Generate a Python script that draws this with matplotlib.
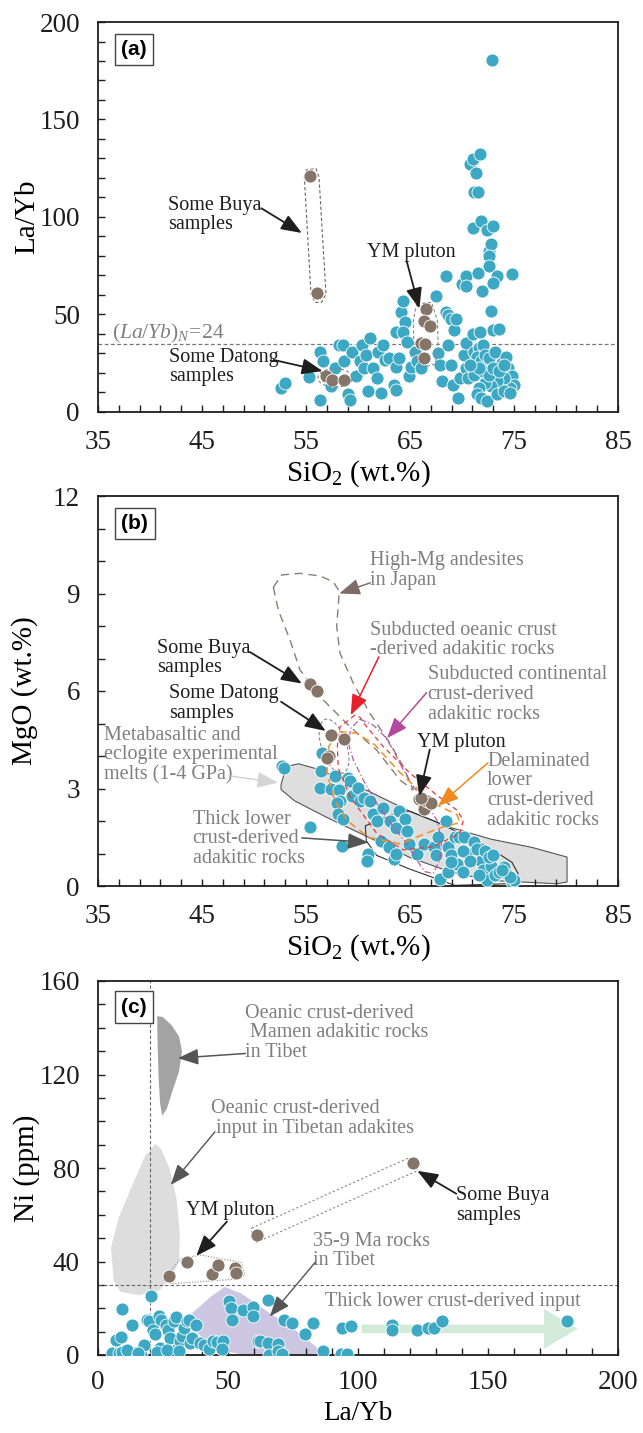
import numpy as np
import matplotlib
matplotlib.use("Agg")
import matplotlib.pyplot as plt
from matplotlib.patches import Polygon, Ellipse, FancyArrow

plt.rcParams['font.family'] = ['Liberation Serif', 'DejaVu Serif']
plt.rcParams['mathtext.fontset'] = 'custom'
plt.rcParams['mathtext.rm'] = 'Liberation Serif'
plt.rcParams['mathtext.it'] = 'Liberation Serif:italic'

BLUE = '#3ca8c3'
BROWN = '#857569'
GRAY_TXT = '#7f7f7f'
DARK = '#1e1e1e'

## ---------------- data, panel (a): La/Yb vs SiO2 ----------------
a_blue_sio2 = [52.6, 53.0, 55.3, 56.3, 56.6, 56.3, 57.4, 57.8, 58.2, 58.6, 58.7, 59.0, 59.2, 59.4,
               59.8, 60.2, 60.4, 60.6, 60.8, 61.0, 61.2, 61.4, 61.8, 61.9, 62.2, 62.4, 62.6, 63.0,
               63.5, 63.7, 63.7, 63.9, 64.1, 64.3, 64.5, 63.7, 64.3, 64.7, 64.9, 65.1, 65.5, 65.7,
               66.1, 67.5, 67.7, 67.9, 68.1, 68.5, 68.5, 68.7, 68.9, 68.7, 68.9, 69.1, 69.2, 69.4,
               69.6, 69.8, 70.0, 70.4, 70.4, 70.2, 70.4, 70.6, 70.4, 70.8, 71.1, 71.7, 71.3, 71.2,
               71.5, 71.1, 71.8, 72.4, 73.0, 72.6, 72.8, 72.6, 71.5, 72.6, 73.4, 73.0, 71.9, 72.8,
               71.1, 71.7, 73.0, 73.6, 74.8, 72.9,
               71.2, 71.6, 72.0, 71.4, 71.8, 72.2, 72.6, 73.2, 73.8, 74.2, 74.4, 74.8, 75.0, 74.6,
               74.0, 73.4, 72.8, 72.2, 71.6, 71.4, 71.8, 72.4, 73.4, 74.0, 74.6, 71.2, 72.0, 72.6,
               73.0, 73.6, 74.0, 71.6, 70.8]
a_blue_layb = [12.3, 14.9, 17.9, 30.9, 25.9, 6.1, 13.2, 22.5, 34.3, 34.3, 25.9, 9.0, 6.4, 30.9,
               18.3, 25.9, 34.3, 22.5, 29.2, 10.7, 37.7, 22.5, 17.4, 30.9, 9.8, 34.3, 26.7, 27.6,
               14.0, 11.5, 23.3, 27.6, 51.2, 57.1, 46.2, 41.1, 41.1, 36.0, 18.3, 23.3, 30.9, 25.9,
               22.5, 59.7, 30.0, 24.2, 15.7, 69.8, 51.2, 49.5, 47.8, 34.3, 24.2, 14.0, 41.9, 47.8,
               7.3, 17.4, 65.6, 69.8, 64.8, 29.2, 22.5, 17.4, 35.2, 127.3, 129.8, 132.4, 122.7, 112.9,
               112.9, 94.3, 97.7, 93.5, 95.5, 82.5, 85.9, 80.0, 71.5, 74.9, 69.8, 66.4, 62.2, 51.6,
               40.2, 41.1, 41.9, 42.8, 70.7, 180.5,
               30.9, 32.6, 34.3, 28.4, 25.9, 29.2, 27.6, 30.9, 25.0, 28.4, 22.5, 18.3, 14.0, 12.3,
               17.4, 15.7, 13.2, 14.9, 12.3, 9.0, 7.3, 5.6, 9.0, 10.7, 9.8, 19.1, 20.8, 19.1,
               22.5, 20.8, 24.2, 22.5, 24.2]
a_brown_sio2 = [55.4, 56.1, 56.9, 57.5, 58.7, 66.5, 66.3, 66.9, 66.1, 66.4, 66.3]
a_brown_layb = [121.0, 61.0, 18.5, 16.5, 16.5, 52.9, 46.5, 44.1, 35.2, 34.8, 27.6]

## ---------------- data, panel (b): MgO vs SiO2 ----------------
b_blue_sio2 = [52.7, 52.9, 55.4, 56.4, 56.5, 56.3, 57.4, 57.8, 58.2, 58.3, 58.0, 58.1, 58.6, 58.5,
               59.0, 59.2, 59.4, 60.0, 60.2, 60.6, 61.0, 60.9, 61.2, 61.4, 61.8, 62.4, 62.2, 63.0,
               63.1, 63.7, 63.9, 64.5, 63.5, 63.7, 64.7, 64.9, 65.7, 66.3, 67.3, 67.5, 67.7, 67.9,
               68.5, 68.7, 68.7, 69.3, 69.7, 70.2, 68.9, 69.5, 70.1, 70.6, 71.2, 71.4, 71.8, 72.0,
               72.4, 72.8, 73.2, 73.6, 74.0, 74.4, 74.8, 75.0, 74.6, 72.2, 72.6, 68.9, 70.1, 70.8,
               71.6, 73.0, 73.8]
b_blue_mgo = [3.68, 3.62, 1.83, 3.55, 4.09, 3.02, 3.00, 3.38, 2.94, 2.62, 2.56, 2.21, 2.06, 1.22,
              3.33, 3.23, 2.77, 3.02, 2.62, 2.72, 0.99, 0.78, 2.62, 2.21, 2.00, 2.41, 1.39, 1.19,
              2.00, 1.80, 2.31, 2.06, 0.83, 0.99, 1.70, 1.29, 0.99, 1.29, 1.19, 0.94, 1.50, 0.22,
              2.00, 0.43, 1.19, 1.50, 1.50, 1.50, 0.94, 0.68, 0.43, 0.99, 1.34, 1.14, 0.78, 0.48,
              0.17, 0.63, 0.33, 0.43, 0.58, 0.33, 0.12, 0.17, 0.27, 1.09, 0.89, 0.73, 1.09, 0.78,
              0.35, 0.95, 0.50]
b_brown_sio2 = [55.4, 56.1, 57.4, 58.7, 57.2, 57.0, 65.9, 66.3, 66.6, 67.0, 66.1]
b_brown_mgo = [6.23, 6.00, 4.65, 4.53, 4.00, 3.94, 2.67, 2.36, 2.62, 2.56, 2.72]

## fields in panel (b)
highmg_x = [51.86, 52.34, 53.46, 54.42, 56.67, 59.23, 61.8, 64.04, 65.32, 64.36, 63.08, 61.15,
            59.55, 58.27, 57.95, 58.2, 57.63, 56.35, 54.42, 52.66]
highmg_y = [9.19, 8.49, 7.57, 6.65, 5.72, 4.9, 4.18, 3.26, 2.95, 3.67, 4.39, 5.31,
            6.24, 7.16, 7.98, 9.06, 9.36, 9.54, 9.62, 9.57]
oceanic_x = [59.71, 58.27, 58.01, 58.11, 59.23, 61.8, 64.36, 67.24, 69.8, 70.13, 69.49, 67.56,
             65.0, 62.43, 60.83, 60.19]
oceanic_y = [5.26, 4.9, 4.29, 3.62, 2.75, 1.62, 1.11, 1.21, 1.62, 2.03, 2.34, 2.8,
             3.47, 4.29, 4.9, 5.19]
contin_x = [60.19, 61.47, 62.6, 63.4, 64.36, 65.32, 66.6, 67.57, 68.05, 67.88, 67.24, 66.44,
            65.64, 64.68, 63.4, 61.8, 60.51, 59.55, 59.07, 59.3]
contin_y = [5.13, 4.95, 4.59, 4.18, 3.57, 3.06, 2.54, 2.03, 1.42, 0.8, 0.39, 0.44,
            0.8, 1.31, 1.82, 2.54, 3.26, 3.88, 4.39, 4.85]
delam_x = [58.2, 59.9, 61.6, 64.0, 67.2, 69.5, 69.8, 68.0, 64.0, 61.0, 59.0, 57.8, 57.0, 57.2]
delam_y = [4.75, 4.7, 4.35, 3.5, 2.55, 2.2, 1.95, 1.8, 1.3, 1.5, 2.0, 2.6, 3.5, 4.3]
melts_x = [52.6, 53.1, 54.3, 56.3, 61.0, 64.9, 68.9, 72.8, 76.7, 80.1, 80.1, 79.1, 72.8, 68.9,
           64.9, 61.0, 57.0, 53.9, 52.6]
melts_y = [3.12, 3.68, 3.76, 3.58, 2.92, 2.31, 1.80, 1.44, 1.19, 0.89, 0.12, 0.07, 0.17, 0.43,
           0.89, 1.50, 2.11, 2.62, 2.97]
thick_x = [60.7, 63.0, 64.9, 67.3, 70.0, 72.8, 74.8, 75.4, 74.4, 69.3, 64.9, 61.8, 60.8]
thick_y = [1.85, 2.16, 2.31, 2.0, 1.6, 1.14, 0.73, 0.38, 0.07, 0.02, 0.53, 0.94, 1.39]

## ---------------- data, panel (c): Ni vs La/Yb ----------------
c_blue_layb = [20.5, 9.1, 7.1, 8.7, 5.5, 7.9, 9.4, 12.9, 14.2, 16.5, 17.6, 18.9, 19.7, 21.3,
               22.0, 23.6, 24.4, 23.9, 22.8, 26.0, 26.8, 27.6, 29.1, 29.9, 30.7, 31.5, 32.3, 33.1,
               34.3, 35.0, 35.4, 36.2, 37.5, 39.4, 40.9, 42.5, 44.1, 45.7, 48.0, 47.6, 50.4, 51.2,
               51.7, 55.9, 59.5, 59.8, 61.4, 62.2, 65.4, 65.4, 65.8, 69.3, 69.3, 70.6, 71.7, 74.8,
               79.5, 82.7, 86.6, 93.7, 97.3, 93.4, 95.7, 113.1, 113.1, 122.8, 126.8, 129.1, 132.3,
               180.3, 11.0, 15.5, 26.5, 31.0]
c_blue_ni = [25.2, 19.6, 6.4, 7.8, 0.8, 0.8, 1.1, 13.0, 0.8, 0.0, 4.2, 15.1, 14.4, 10.9,
             8.8, 16.5, 15.1, 2.8, 1.4, 13.0, 10.9, 7.4, 14.4, 16.2, 3.2, 6.0, 8.1, 11.6,
             14.4, 15.1, 5.3, 7.4, 13.0, 5.3, 4.2, 2.5, 6.0, 5.6, 6.0, 2.5, 23.1, 20.0,
             15.1, 19.3, 20.4, 16.8, 6.0, 6.0, 23.5, 5.3, 0.0, 4.6, 1.8, 0.4, 15.1, 13.7,
             8.8, 13.7, 1.8, 11.6, 12.6, 0.4, 0.4, 13.0, 10.9, 10.9, 11.6, 11.6, 14.4,
             14.4, 2.0, 1.0, 2.0, 1.5]
c_brown_layb = [121.3, 61.1, 27.2, 34.3, 43.8, 46.0, 52.8, 53.2]
c_brown_ni = [82.0, 51.5, 33.6, 40.0, 34.7, 38.5, 37.1, 35.0]

mamen_x = [22.8, 24.9, 28.3, 31.2, 32.3, 31.2, 28.7, 26.5, 24.7, 23.9, 23.3, 23.0, 22.8]
mamen_y = [145.0, 144.6, 141.1, 136.2, 129.9, 121.5, 113.1, 105.4, 102.3, 107.5, 118.7, 129.9, 139.7]
tibinput_x = [22.0, 24.4, 27.6, 30.2, 31.5, 31.2, 28.3, 23.6, 15.7, 8.7, 6.0, 5.0, 7.9, 12.6, 18.1]
tibinput_y = [90.4, 87.9, 79.5, 66.9, 51.5, 40.3, 33.3, 27.7, 25.6, 27.0, 31.9, 45.9, 58.5, 71.1, 85.1]
rocks359_x = [36.2, 44.1, 48.8, 55.1, 66.1, 75.6, 83.5, 86.6, 56.0, 44.0, 37.8]
rocks359_y = [17.9, 25.6, 29.1, 26.3, 17.9, 10.9, 3.9, 0.0, 0.0, 3.0, 10.0]


def style_axes(ax, xlim, ylim, xmaj, xmin, ymaj, ymin, letter):
    ax.set_xlim(*xlim)
    ax.set_ylim(*ylim)
    ax.set_xticks(xmaj)
    ax.set_xticks(xmin, minor=True)
    ax.set_yticks(ymaj)
    ax.set_yticks(ymin, minor=True)
    ax.tick_params(which='both', direction='in', length=5, width=1.0, colors=DARK,
                   labelsize=19.5, pad=13, top=False, right=False)
    for s in ax.spines.values():
        s.set_linewidth(1.3)
        s.set_color(DARK)
    ax.text(0.045, 0.93, letter, transform=ax.transAxes, fontsize=15, fontweight='bold',
            family='Liberation Sans', ha='left', va='center', zorder=10,
            bbox=dict(boxstyle='square,pad=0.3', fc='white', ec='#444444', lw=1.0))


def arrow(ax, tail, tip, color=DARK, lw=1.3):
    ax.annotate('', xy=tip, xytext=tail, zorder=6,
                arrowprops=dict(arrowstyle='-|>,head_length=0.9,head_width=0.35', color=color,
                                lw=lw, shrinkA=0, shrinkB=0, mutation_scale=14))


def field(ax, xs, ys, **kw):
    ax.add_patch(Polygon(np.column_stack([xs, ys]), closed=True, **kw))


fig = plt.figure(figsize=(6.43, 14.33), dpi=100)
L, W = 98 / 643, 520 / 643
ax_a = fig.add_axes([L, 1 - 412 / 1433, W, 390 / 1433])
ax_b = fig.add_axes([L, 1 - 886 / 1433, W, 390 / 1433])
ax_c = fig.add_axes([L, 1 - 1355 / 1433, W, 374 / 1433])

dot = dict(s=88, edgecolors='white', linewidths=0.6)
txt = dict(fontsize=14.5, linespacing=1.05, va='center', ha='left')

# ---------- (a) ----------
ax = ax_a
style_axes(ax, (35, 85), (0, 200), np.arange(35, 86, 10), np.arange(35, 86, 2),
           np.arange(0, 201, 50), np.arange(0, 201, 10), '(a)')
ax.axhline(35, color='#777777', lw=0.9, ls=(0, (3, 2)), zorder=1)
ax.text(36.3, 40.5, r'$\mathit{(La/Yb)_N\!=\!24}$', color=GRAY_TXT, fontsize=15.5, va='center')
ax.scatter(a_blue_sio2, a_blue_layb, color=BLUE, zorder=3, **dot)
ax.scatter(a_brown_sio2, a_brown_layb, color=BROWN, zorder=4, **dot)
field(ax, [54.84, 55.07, 55.96, 56.25, 56.92, 56.5, 55.87, 55.48],
      [120.5, 124.2, 124.8, 120.5, 60.5, 56.2, 56.2, 60.5],
      fill=False, ec='#666666', lw=0.8, ls=(0, (3, 2)), zorder=2)
field(ax, [65.64, 67.08, 67.63, 67.72, 67.4, 66.12, 65.38, 65.32],
      [55.4, 56.2, 46.8, 33.1, 24.5, 22.8, 29.7, 46.8],
      fill=False, ec='#888888', lw=0.8, ls=(0, (3, 2)), zorder=5)
ax.add_patch(Ellipse((57.8, 17.5), 3.3, 9.5, fill=False, ec='#888888', lw=0.8,
                     ls=(0, (3, 2)), zorder=5))
ax.text(41.7, 101, 'Some Buya\nsamples', color=DARK, **txt)
arrow(ax, (50.7, 104.5), (54.6, 91.8))
ax.text(65.1, 81.7, 'YM pluton', color=DARK, fontsize=14.5, ha='center', va='center')
arrow(ax, (64.7, 77.0), (65.9, 53.0))
ax.text(41.8, 23.1, 'Some Datong\nsamples', color=DARK, **txt)
arrow(ax, (51.9, 26.7), (56.6, 21.0))
ax.set_ylabel('La/Yb', fontsize=21)
ax.set_xlabel(r'SiO$_2$ (wt.%)', fontsize=21)
ax.yaxis.set_label_coords(-0.111, 0.5)
ax.xaxis.set_label_coords(0.5, -0.12)

# ---------- (b) ----------
ax = ax_b
style_axes(ax, (35, 85), (0, 12), np.arange(35, 86, 10), np.arange(35, 86, 2),
           np.arange(0, 13, 3), np.arange(0, 13, 1), '(b)')
field(ax, melts_x, melts_y, fc='#dedede', ec='#555555', lw=0.8, zorder=1)
field(ax, thick_x, thick_y, fill=False, ec='#333333', lw=0.8, zorder=2)
ax.scatter(b_blue_sio2, b_blue_mgo, color=BLUE, zorder=3, **dot)
field(ax, highmg_x, highmg_y, fill=False, ec='#8a7d77', lw=1.0, ls=(0, (6, 4)), zorder=4)
field(ax, oceanic_x, oceanic_y, fill=False, ec='#e8383d', lw=0.9, ls=(0, (4, 3)), zorder=4)
field(ax, contin_x, contin_y, fill=False, ec='#b45aa6', lw=0.9, ls=(0, (5, 2, 1, 2)), zorder=4)
field(ax, delam_x, delam_y, fill=False, ec='#f0902a', lw=1.1, ls=(0, (5, 3)), zorder=4)
ax.add_patch(Ellipse((57.7, 4.3), 3.0, 1.4, angle=-20, fill=False, ec='#888888', lw=0.8,
                     ls=(0, (3, 2)), zorder=4))
ax.scatter(b_brown_sio2, b_brown_mgo, color=BROWN, zorder=5, **dot)
ax.text(61.2, 9.7, 'High-Mg andesites\nin Japan', color=GRAY_TXT, **txt)
arrow(ax, (61.2, 9.33), (58.2, 9.0), color='#7d6d66', lw=1.1)
ax.text(61.2, 7.57, 'Subducted oeanic crust\n-derived adakitic rocks', color=GRAY_TXT, **txt)
arrow(ax, (62.0, 7.05), (59.3, 5.26), color='#e8202a', lw=1.1)
ax.text(66.7, 5.89, 'Subducted continental\ncrust-derived\nadakitic rocks', color=GRAY_TXT, **txt)
arrow(ax, (66.6, 5.95), (62.8, 4.55), color='#b5489f', lw=1.1)
ax.text(65.7, 4.43, 'YM pluton', color=DARK, fontsize=14.5, ha='left', va='center')
arrow(ax, (66.9, 4.2), (65.9, 2.77))
ax.text(72.4, 2.93, 'Delaminated\nlower\ncrust-derived\nadakitic rocks', color=GRAY_TXT, **txt)
arrow(ax, (72.5, 3.79), (67.7, 2.46), color='#f08a1c', lw=1.1)
ax.text(40.7, 7.02, 'Some Buya\nsamples', color=DARK, **txt)
arrow(ax, (49.6, 7.2), (54.6, 6.23))
ax.text(41.8, 5.62, 'Some Datong\nsamples', color=DARK, **txt)
arrow(ax, (52.6, 5.67), (56.9, 4.77))
ax.text(35.6, 4.03, 'Metabasaltic and\neclogite experimental\nmelts (1-4 GPa)', color=GRAY_TXT, **txt)
arrow(ax, (47.8, 3.38), (52.3, 3.18), color='#d4d4d4', lw=1.1)
ax.text(44.1, 1.45, 'Thick lower\ncrust-derived\nadakitic rocks', color=GRAY_TXT, **txt)
arrow(ax, (54.6, 1.48), (61.0, 1.34), color='#555555', lw=1.1)
ax.set_ylabel('MgO (wt.%)', fontsize=21)
ax.set_xlabel(r'SiO$_2$ (wt.%)', fontsize=21)
ax.yaxis.set_label_coords(-0.115, 0.5)
ax.xaxis.set_label_coords(0.5, -0.12)

# ---------- (c) ----------
ax = ax_c
style_axes(ax, (0, 200), (0, 160), np.arange(0, 201, 50), np.arange(0, 201, 10),
           np.arange(0, 161, 40), np.arange(0, 161, 10), '(c)')
ax.tick_params(axis='x', pad=11)
field(ax, mamen_x, mamen_y, fc='#a3a3a3', ec='none', zorder=1)
field(ax, tibinput_x, tibinput_y, fc='#dcdddc', ec='none', zorder=1)
field(ax, rocks359_x, rocks359_y, fc='#cdc6e2', ec='none', zorder=1)
ax.add_patch(FancyArrow(101.5, 11.2, 70, 0, width=3.6, head_width=17, head_length=13,
                        length_includes_head=False, fc='#d2ebd8', ec='none', zorder=1))
ax.axvline(20, color='#666666', lw=0.8, ls=(0, (3, 2)), zorder=2)
ax.axhline(30, color='#666666', lw=0.8, ls=(0, (3, 2)), zorder=2)
field(ax, [59.1, 119.7, 122.3, 122.8, 60.6, 59.0],
      [54.3, 84.4, 83.0, 78.8, 48.0, 50.5],
      fill=False, ec='#888888', lw=0.8, ls=(0, (2, 2)), zorder=2)
field(ax, [25.2, 31.5, 39.4, 55.1, 56.4, 55.1, 28.3],
      [31.9, 41.0, 42.8, 39.6, 34.7, 32.6, 30.5],
      fill=False, ec='#888888', lw=0.8, ls=(0, (1, 1.5)), zorder=2)
ax.scatter(c_blue_layb, c_blue_ni, color=BLUE, zorder=3, **dot)
ax.scatter(c_brown_layb, c_brown_ni, color=BROWN, zorder=4, **dot)
ax.text(56.7, 137.8, 'Oeanic crust-derived\n Mamen adakitic rocks\nin Tibet', color=GRAY_TXT, **txt)
arrow(ax, (56.7, 129.0), (30.7, 127.0), color='#555555', lw=1.1)
ax.text(43.3, 101.2, 'Oeanic crust-derived\n input in Tibetan adakites', color=GRAY_TXT, **txt)
arrow(ax, (45.0, 95.5), (28.0, 72.8), color='#555555', lw=1.0)
ax.text(33.9, 62.0, 'YM pluton', color=DARK, fontsize=14.5, ha='left', va='center')
arrow(ax, (49.6, 57.1), (37.8, 42.4))
ax.text(137.8, 63.9, 'Some Buya\nsamples', color=DARK, **txt)
arrow(ax, (137.8, 69.0), (122.8, 78.8))
ax.text(82.7, 44.5, '35-9 Ma rocks\nin Tibet', color=GRAY_TXT, **txt)
arrow(ax, (83.5, 39.6), (66.1, 16.5), color='#555555', lw=1.0)
ax.text(87.4, 23.1, 'Thick lower crust-derived input', color=GRAY_TXT, **txt)
ax.set_ylabel('Ni (ppm)', fontsize=21)
ax.set_xlabel('La/Yb', fontsize=19.5)
ax.yaxis.set_label_coords(-0.111, 0.5)
ax.xaxis.set_label_coords(0.5, -0.124)

fig.savefig('out.png', dpi=100)
